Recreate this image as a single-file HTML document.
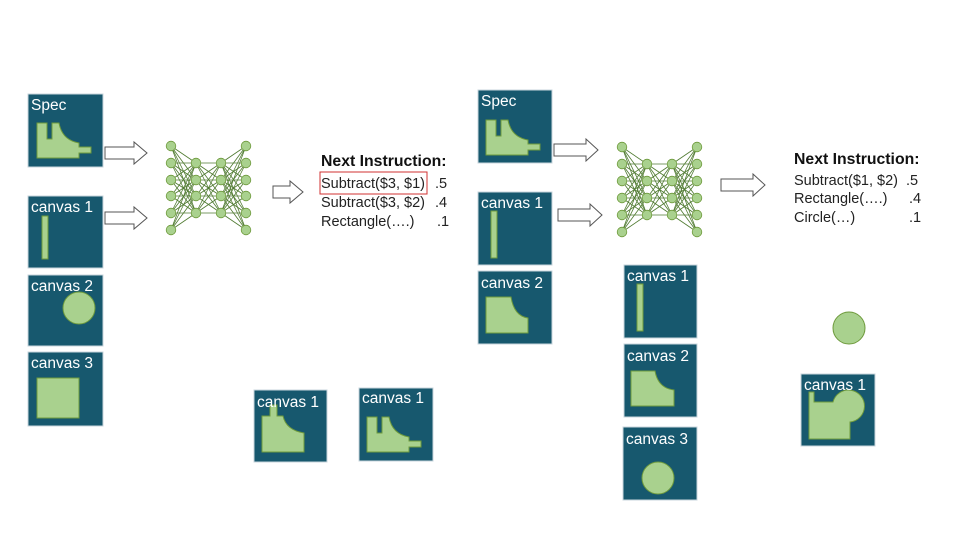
<!DOCTYPE html>
<html><head><meta charset="utf-8"><style>
html,body{margin:0;padding:0;background:#fff;width:960px;height:540px;overflow:hidden}
svg{display:block}
.lbl{font-family:"Liberation Sans",sans-serif;font-size:15.5px;fill:#fff}
.t{font-family:"Liberation Sans",sans-serif;font-size:14.5px;fill:#222}
.h{font-family:"Liberation Sans",sans-serif;font-size:15.8px;font-weight:bold;fill:#111}
.box{fill:#17586e;stroke:#c8d6dc;stroke-width:1}
.sh{fill:#a9d18e;stroke:#6e9a3c;stroke-width:1}
.ar{fill:#fff;stroke:#555;stroke-width:1}
</style></head><body>
<svg id="s" width="960" height="540" viewBox="0 0 960 540" xmlns="http://www.w3.org/2000/svg">
<g id="nets"></g>

<rect class="box" x="28" y="94" width="75" height="73"/>
<text class="lbl" x="31" y="110">Spec</text>
<path class="sh" d="M37,123 H47 V139 H52 V123 H59 Q62,140 79,143 V147 H91 V153 H79 V158 H37 Z"/>

<rect class="box" x="28" y="196" width="75" height="72"/>
<text class="lbl" x="31" y="212">canvas 1</text>
<rect class="sh" x="42" y="216" width="6" height="43"/>

<rect class="box" x="28" y="275" width="75" height="71"/>
<text class="lbl" x="31" y="291">canvas 2</text>
<circle class="sh" cx="79" cy="308" r="16"/>

<rect class="box" x="28" y="352" width="75" height="74"/>
<text class="lbl" x="31" y="368">canvas 3</text>
<rect class="sh" x="37" y="378" width="42" height="40"/>

<path class="ar" d="M105,147 H134 V142 L147,153 L134,164 V159 H105 Z"/>
<path class="ar" d="M105,212 H134 V207 L147,218 L134,229 V224 H105 Z"/>
<path class="ar" d="M273,186 H290 V181 L303,192 L290,203 V198 H273 Z"/>

<text class="h" x="321" y="166">Next Instruction:</text>
<rect x="320" y="172" width="107" height="22" fill="none" stroke="#d03030" stroke-width="1"/>
<text class="t" x="321" y="188">Subtract($3, $1)</text><text class="t" x="435" y="188">.5</text>
<text class="t" x="321" y="207">Subtract($3, $2)</text><text class="t" x="435" y="207">.4</text>
<text class="t" x="321" y="226">Rectangle(….)</text><text class="t" x="437" y="226">.1</text>

<rect class="box" x="254" y="390" width="73" height="72"/>
<path class="sh" d="M270,405 H277 V416 H283 Q286,430 304,433 V452 H262 V416 H270 Z"/>
<text class="lbl" x="257" y="407">canvas 1</text>

<rect class="box" x="359" y="388" width="74" height="73"/>
<text class="lbl" x="362" y="403">canvas 1</text>
<path class="sh" d="M367,417 H377 V433 H382 V417 H389 Q392,434 409,437 V441 H421 V447 H409 V452 H367 Z"/>

<rect class="box" x="478" y="90" width="74" height="73"/>
<text class="lbl" x="481" y="106">Spec</text>
<path class="sh" d="M486,120 H496 V136 H501 V120 H508 Q511,137 528,140 V144 H540 V150 H528 V155 H486 Z"/>

<rect class="box" x="478" y="192" width="74" height="73"/>
<text class="lbl" x="481" y="208">canvas 1</text>
<rect class="sh" x="491" y="211" width="6" height="47"/>

<rect class="box" x="478" y="271" width="74" height="73"/>
<text class="lbl" x="481" y="288">canvas 2</text>
<path class="sh" d="M486,297 H511 Q514,316 528,318 V333 H486 Z"/>

<path class="ar" d="M554,144 H586 V139 L598,150 L586,161 V156 H554 Z"/>
<path class="ar" d="M558,209 H590 V204 L602,215 L590,226 V221 H558 Z"/>
<path class="ar" d="M721,179 H753 V174 L765,185 L753,196 V191 H721 Z"/>

<text class="h" x="794" y="164">Next Instruction:</text>
<text class="t" x="794" y="185">Subtract($1, $2)</text><text class="t" x="906" y="185">.5</text>
<text class="t" x="794" y="203">Rectangle(….)</text><text class="t" x="909" y="203">.4</text>
<text class="t" x="794" y="222">Circle(…)</text><text class="t" x="909" y="222">.1</text>

<rect class="box" x="624" y="265" width="73" height="73"/>
<text class="lbl" x="627" y="281">canvas 1</text>
<rect class="sh" x="637" y="284" width="6" height="47"/>

<rect class="box" x="624" y="344" width="73" height="73"/>
<text class="lbl" x="627" y="361">canvas 2</text>
<path class="sh" d="M631,371 H655 Q658,388 674,390 V406 H631 Z"/>

<rect class="box" x="623" y="427" width="74" height="73"/>
<text class="lbl" x="626" y="444">canvas 3</text>
<circle class="sh" cx="658" cy="478" r="16"/>

<circle class="sh" cx="849" cy="328" r="16"/>

<rect class="box" x="801" y="374" width="74" height="72"/>
<path class="sh" d="M809,392 H814 V402 H833 A16,16 0 1 1 850,422 V439 H809 Z"/>
<text class="lbl" x="804" y="390">canvas 1</text>
</svg>
<script>
(function(){
 var g=document.getElementById('nets'),ns='http://www.w3.org/2000/svg';
 function net(x0,dx,ys6,ys4){
  var cols=[[x0,ys6],[x0+dx,ys4],[x0+2*dx,ys4],[x0+3*dx,ys6]];
  for(var c=0;c<3;c++){
   cols[c][1].forEach(function(a){cols[c+1][1].forEach(function(b){
    var l=document.createElementNS(ns,'line');
    l.setAttribute('x1',cols[c][0]);l.setAttribute('y1',a);
    l.setAttribute('x2',cols[c+1][0]);l.setAttribute('y2',b);
    l.setAttribute('stroke','#4f7a30');l.setAttribute('stroke-width','0.8');g.appendChild(l);});});
  }
  cols.forEach(function(col){col[1].forEach(function(y){
   var e=document.createElementNS(ns,'circle');
   e.setAttribute('cx',col[0]);e.setAttribute('cy',y);e.setAttribute('r','4.8');
   e.setAttribute('fill','#a9d18e');e.setAttribute('stroke','#6e9a3c');e.setAttribute('stroke-width','0.8');
   g.appendChild(e);});});
 }
 net(171,25,[146,163,180,196,213,230],[163,180,196,213]);
 net(622,25,[147,164,181,198,215,232],[164,181,198,215]);
})();
</script>
</body></html>
